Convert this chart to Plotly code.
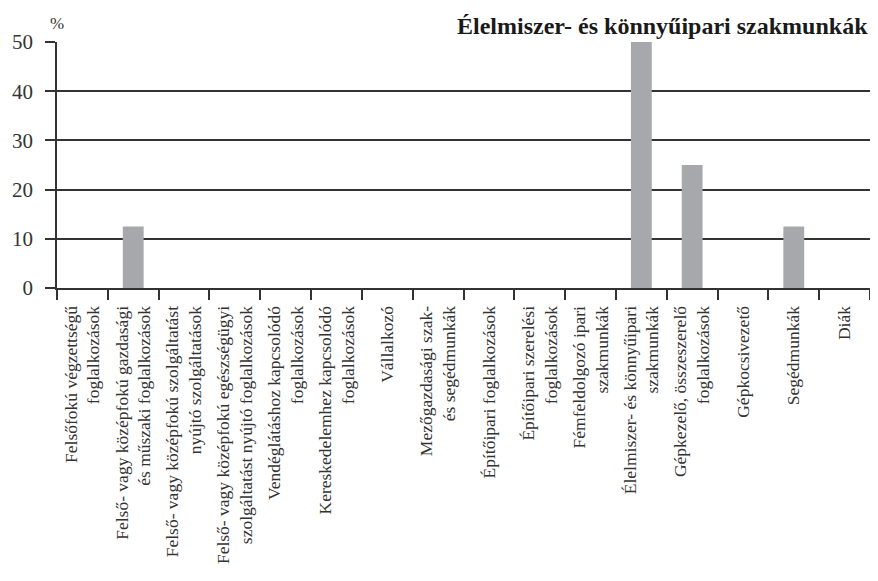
import plotly.graph_objects as go

categories = [
    "Felsőfokú végzettségű<br>foglalkozások",
    "Felső- vagy középfokú gazdasági<br>és műszaki foglalkozások",
    "Felső- vagy középfokú szolgáltatást<br>nyújtó szolgáltatások",
    "Felső- vagy középfokú egészségügyi<br>szolgáltatást nyújtó foglalkozások",
    "Vendéglátáshoz kapcsolódó<br>foglalkozások",
    "Kereskedelemhez kapcsolódó<br>foglalkozások",
    "Vállalkozó",
    "Mezőgazdasági szak-<br>és segédmunkák",
    "Építőipari foglalkozások",
    "Építőipari szerelési<br>foglalkozások",
    "Fémfeldolgozó ipari<br>szakmunkák",
    "Élelmiszer- és könnyűipari<br>szakmunkák",
    "Gépkezelő, összeszerelő<br>foglalkozások",
    "Gépkocsivezető",
    "Segédmunkák",
    "Diák",
]
values = [0, 12.5, 0, 0, 0, 0, 0, 0, 0, 0, 0, 50, 25, 0, 12.5, 0]
y_ticks = [0, 10, 20, 30, 40, 50]

SERIF = "Times New Roman, serif"
INK = "#333333"

fig = go.Figure(
    go.Bar(x=categories, y=values, marker=dict(color="#a7a8ab", line_width=0), hoverinfo="x+y")
)

# page body keeps its default 8px margin; size the figure so the page does not overflow
fig.update_layout(
    width=862,
    height=565,
    margin=dict(l=49, r=0, t=34, b=285),
    paper_bgcolor="white",
    plot_bgcolor="white",
    bargap=0.59,
    showlegend=False,
    font=dict(family=SERIF, color=INK),
    annotations=[
        dict(text="<b>Élelmiszer- és könnyűipari szakmunkák</b>", xref="paper", yref="paper",
             x=1, y=1, xanchor="right", yanchor="bottom", yshift=1, showarrow=False,
             font=dict(size=24, family=SERIF, color="#1a1a1a")),
        dict(text="%", xref="paper", yref="paper", x=0, y=1, xanchor="center", yanchor="bottom",
             xshift=0, yshift=7, showarrow=False, font=dict(size=17, family=SERIF, color=INK)),
    ],
)

fig.update_xaxes(
    type="category",
    tickson="boundaries",
    ticks="outside",
    ticklen=10,
    tickwidth=1.5,
    tickcolor=INK,
    tickangle=-90,
    ticklabelstandoff=9,
    tickfont=dict(size=17.5, family=SERIF, color=INK),
    showgrid=False,
    showline=True,
    linecolor=INK,
    linewidth=2,
    automargin=False,
)
fig.update_yaxes(
    range=[0, 50],
    tickvals=y_ticks,
    ticks="outside",
    ticklen=10,
    tickwidth=2,
    tickcolor=INK,
    ticklabelstandoff=8,
    tickfont=dict(size=21, family=SERIF, color=INK),
    showgrid=True,
    gridcolor=INK,
    gridwidth=2,
    zeroline=False,
    showline=True,
    linecolor=INK,
    linewidth=1.5,
    automargin=False,
)

fig.write_html("out.html")
